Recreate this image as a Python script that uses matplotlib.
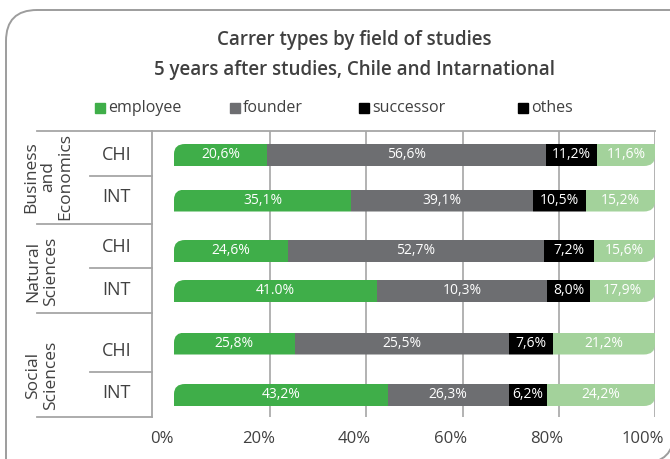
import matplotlib.pyplot as plt
import matplotlib.transforms as mtransforms
from matplotlib.path import Path
from matplotlib.patches import PathPatch

plt.rcParams['font.family'] = ['Open Sans', 'DejaVu Sans']

# --- data ---
fields = ["Business\nand\nEconomics", "Natural\nSciences", "Social\nSciences"]
regions = ["CHI", "INT", "CHI", "INT", "CHI", "INT"]
series = ["employee", "founder", "successor", "othes"]

# segment lengths as drawn in the picture (% of bar)
employee = [19.3, 36.9, 23.6, 42.1, 25.1, 44.4]
founder = [58.0, 37.7, 53.3, 35.5, 44.5, 25.2]
successor = [10.7, 11.1, 10.4, 8.8, 9.2, 8.0]
others = [12.0, 14.3, 12.7, 13.6, 21.2, 22.4]

# value labels as printed on the bars
employee_lbl = ["20,6%", "35,1%", "24,6%", "41.0%", "25,8%", "43,2%"]
founder_lbl = ["56,6%", "39,1%", "52,7%", "10,3%", "25,5%", "26,3%"]
successor_lbl = ["11,2%", "10,5%", "7,2%", "8,0%", "7,6%", "6,2%"]
others_lbl = ["11,6%", "15,2%", "15,6%", "17,9%", "21,2%", "24,2%"]

ticks = [0, 20, 40, 60, 80, 100]
tick_lbl = ["0%", "20%", "40%", "60%", "80%", "100%"]

# --- style / layout (pixel coords of a 670x459 canvas) ---
GREEN, GRAY, BLACK, LIGHT = "#3fae49", "#6d6e71", "#000000", "#a3d29b"
TXT = "#404040"
LINE = "#a6a6a6"
W, H = 670, 459
X0, X1 = 174, 655          # 0% .. 100%
Y_TOP, Y_BOT = 131, 417
row_y = [155, 200.5, 251, 291, 343.5, 395]
bar_h = 22

fig = plt.figure(figsize=(W / 100, H / 100), dpi=100)

# background layer in pixel units
bg = fig.add_axes([0, 0, 1, 1])
bg.set_xlim(0, W)
bg.set_ylim(H, 0)
bg.axis('off')

# card outline: rounded top-left and bottom-right
r = 31
card = Path([(6, 480), (6, 10 + r), (6, 10), (6 + r, 10), (690, 10),
             (674, 10), (674, 463 - r), (674, 463), (674 - r, 463), (6, 463)],
            [Path.MOVETO, Path.LINETO, Path.CURVE3, Path.CURVE3, Path.LINETO,
             Path.MOVETO, Path.LINETO, Path.CURVE3, Path.CURVE3, Path.LINETO])
bg.add_patch(PathPatch(card, fill=False, edgecolor="#9d9d9d", lw=1.4, clip_on=False))

# title
bg.text(354, 40, "Carrer types by field of studies", ha='center', va='center',
        fontsize=13.5, fontweight='semibold', color=TXT)
bg.text(354, 70, "5 years after studies, Chile and Intarnational", ha='center', va='center',
        fontsize=13.5, fontweight='semibold', color=TXT)

# legend
leg_sq = [100, 235, 364, 523]
leg_col = [GREEN, GRAY, BLACK, BLACK]
for xs, c, name in zip(leg_sq, leg_col, series):
    bg.plot(xs, 107.5, marker='s', ms=7, color=c, ls='none')
    bg.text(xs + 8, 112, name, ha='left', va='baseline', fontsize=11.5, color=TXT)

# table frame on the left
bg.plot([37, X1], [Y_TOP, Y_TOP], color=LINE, lw=1.3)
bg.plot([152, 152], [Y_TOP, Y_BOT], color=LINE, lw=1.3)
for yy in [224, 313, Y_BOT]:
    bg.plot([37, 152], [yy, yy], color=LINE, lw=1.3)
for yy in [176, 268, 372]:
    bg.plot([90, 152], [yy, yy], color=LINE, lw=1.3)

field_x = [48, 42, 42]
field_y = [177, 271, 375.5]
for f, fx, fy in zip(fields, field_x, field_y):
    bg.text(fx, fy, f, rotation=90, ha='center', va='center', multialignment='center',
            fontsize=12.5, color=TXT, linespacing=1.1)

region_y = [155, 197, 247, 290, 351, 393]
for reg, ry in zip(regions, region_y):
    bg.text(116.5, ry, reg, ha='center', va='center', fontsize=13, color=TXT)

# bar axes
ax = fig.add_axes([X0 / W, 1 - Y_BOT / H, (X1 - X0) / W, (Y_BOT - Y_TOP) / H])
ax.set_facecolor('none')
ax.set_xlim(0, 100)
ax.set_ylim(Y_BOT, Y_TOP)
for s in ax.spines.values():
    s.set_visible(False)
ax.vlines(ticks[1:], Y_TOP, Y_BOT, color=LINE, lw=1.2, zorder=0)

left = [0] * len(row_y)
conts = []
for vals, lbls, col in zip([employee, founder, successor, others],
                           [employee_lbl, founder_lbl, successor_lbl, others_lbl],
                           [GREEN, GRAY, BLACK, LIGHT]):
    bc = ax.barh(row_y, vals, left=left, height=bar_h, color=col, zorder=2)
    ax.bar_label(bc, labels=lbls, label_type='center', color='white', fontsize=10)
    conts.append(bc)
    left = [a + b for a, b in zip(left, vals)]

# round the top-left and bottom-right corners of each bar
rx, ry = 2.3, 10
for i, yc in enumerate(row_y):
    top, bot = yc - bar_h / 2, yc + bar_h / 2
    clip = Path([(0, bot), (0, top + ry), (0, top), (rx, top), (100, top),
                 (100, bot - ry), (100, bot), (100 - rx, bot), (0, bot)],
                [Path.MOVETO, Path.LINETO, Path.CURVE3, Path.CURVE3, Path.LINETO,
                 Path.LINETO, Path.CURVE3, Path.CURVE3, Path.CLOSEPOLY])
    clip_patch = PathPatch(clip, transform=ax.transData, facecolor='none',
                           edgecolor='none')
    ax.add_patch(clip_patch)
    for bc in conts:
        bc.patches[i].set_clip_path(clip_patch)

ax.set_yticks([])
ax.set_xticks(ticks, tick_lbl)
ax.tick_params(axis='x', length=0, pad=10, labelsize=12, labelcolor=TXT)
shift = mtransforms.ScaledTranslation(-12 / 100, 0, fig.dpi_scale_trans)
for lab in ax.get_xticklabels():
    lab.set_transform(lab.get_transform() + shift)

fig.savefig("out.png", dpi=100)
